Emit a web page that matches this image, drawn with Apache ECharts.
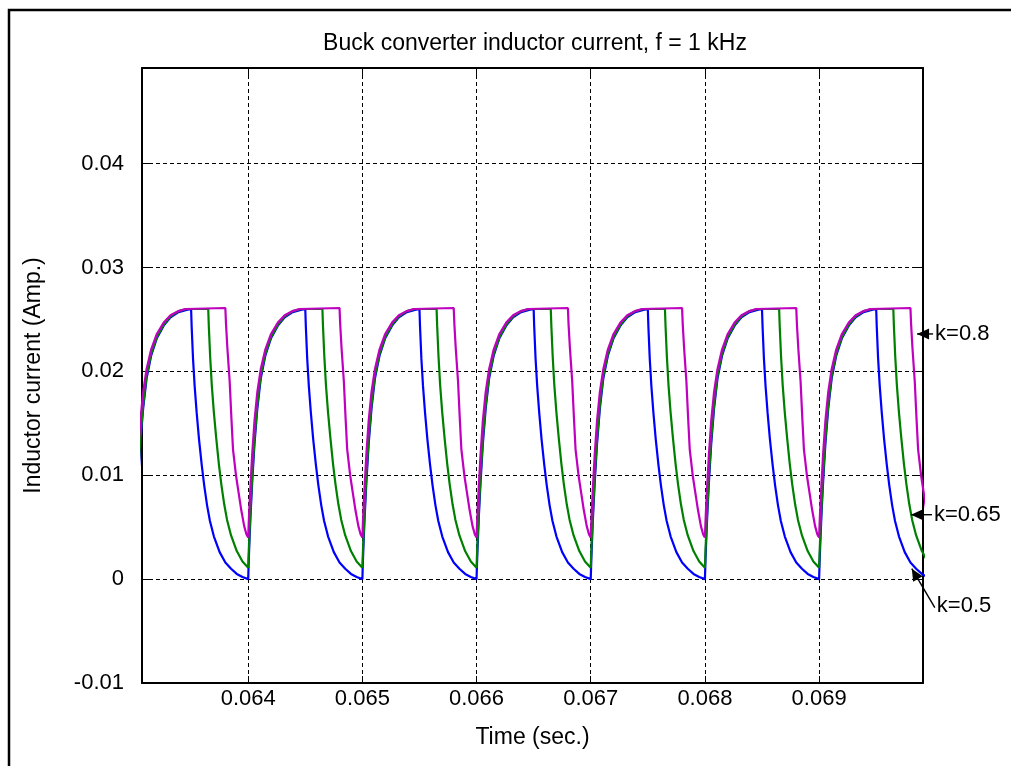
<!DOCTYPE html>
<html>
<head>
<meta charset="utf-8">
<title>Buck converter inductor current</title>
<script src="https://cdn.jsdelivr.net/npm/echarts@6/dist/echarts.min.js"></script>
<style>
  html, body { margin: 0; padding: 0; background: #fff; }
  #chart { width: 1011px; height: 766px; }
</style>
</head>
<body>
<div id="chart"></div>
<script>
// Switching period starts (s); the waveform repeats every 1 ms.
const PERIOD_STARTS = [0.063, 0.064, 0.065, 0.066, 0.067, 0.068, 0.069];

// One switching period per duty ratio: time into the period (ms) and inductor current (A).
const T_K050 = [0, 0.005, 0.010, 0.020, 0.035, 0.055, 0.080, 0.110, 0.150, 0.200, 0.260, 0.320, 0.390, 0.460, 0.500,
                0.505, 0.517, 0.531, 0.549, 0.569, 0.593, 0.615, 0.640, 0.665, 0.700, 0.750, 0.800, 0.850, 0.900, 0.950, 1.000];
const I_K050 = [0.0000, 0.0018, 0.0033, 0.0060, 0.0093, 0.0130, 0.0164, 0.0193, 0.0215, 0.0232, 0.0244, 0.0252, 0.0257, 0.0259, 0.0260,
                0.0243, 0.0212, 0.0186, 0.0160, 0.0135, 0.0110, 0.0090, 0.0071, 0.0056, 0.0041, 0.0026, 0.0016, 0.0010, 0.0005, 0.0002, 0.0000];

const T_K065 = [0, 0.005, 0.010, 0.020, 0.035, 0.055, 0.080, 0.110, 0.150, 0.200, 0.260, 0.320, 0.390, 0.460, 0.650,
                0.655, 0.667, 0.681, 0.699, 0.719, 0.743, 0.765, 0.790, 0.815, 0.850, 0.900, 0.950, 1.000];
const I_K065 = [0.0011, 0.0027, 0.0041, 0.0066, 0.0099, 0.0135, 0.0168, 0.0196, 0.0217, 0.0233, 0.0245, 0.0253, 0.0258, 0.0260, 0.0260,
                0.0244, 0.0214, 0.0187, 0.0161, 0.0137, 0.0111, 0.0091, 0.0072, 0.0057, 0.0042, 0.0027, 0.0017, 0.0011];

const T_K080 = [0, 0.005, 0.010, 0.020, 0.035, 0.055, 0.080, 0.110, 0.150, 0.200, 0.260, 0.320, 0.390, 0.450, 0.800,
                0.806, 0.818, 0.838, 0.853, 0.867, 0.893, 0.915, 0.940, 0.965, 0.985, 1.000];
const I_K080 = [0.0040, 0.0055, 0.0068, 0.0090, 0.0120, 0.0152, 0.0180, 0.0202, 0.0221, 0.0236, 0.0247, 0.0254, 0.0258, 0.0260, 0.0261,
                0.0245, 0.0222, 0.0190, 0.0155, 0.0125, 0.0100, 0.0084, 0.0066, 0.0051, 0.0043, 0.0040];

// Text annotations with arrows pointing at each curve (arrow tip in data units).
const ANNOT_TEXT = ['k=0.8', 'k=0.65', 'k=0.5'];
const ANNOT_TIP = [[0.069858, 0.0236], [0.069805, 0.0062], [0.069812, 0.0010]];

const X_MIN = 0.06307, X_MAX = 0.06991;
const Y_MIN = -0.01, Y_MAX = 0.0492;

const FONT = '"Liberation Sans", Arial, Helvetica, sans-serif';

function buildSeries(offsets, values) {
  const out = [];
  PERIOD_STARTS.forEach(function (t0) {
    offsets.forEach(function (dt, i) {
      out.push([t0 + dt / 1000, values[i]]);
    });
  });
  return out;
}

const chart = echarts.init(document.getElementById('chart'), null, { renderer: 'canvas' });

const gridBox = { left: 142, top: 68, right: 88, bottom: 83 };

const commonTick = { show: true, inside: true, length: 7, lineStyle: { color: '#000', width: 1 } };
const dashed = { show: true, lineStyle: { color: '#000', width: 1, type: [4, 3] } };

function lineSeries(name, color, offsets, values) {
  return {
    name: name,
    type: 'line',
    data: buildSeries(offsets, values),
    showSymbol: false,
    clip: true,
    lineStyle: { color: color, width: 2.2 },
    itemStyle: { color: color },
    animation: false
  };
}

chart.setOption({
  animation: false,
  backgroundColor: '#fff',
  title: {
    text: 'Buck converter inductor current, f = 1 kHz',
    left: 530,
    top: 27,
    textAlign: 'center',
    textStyle: { fontFamily: FONT, fontSize: 23, fontWeight: 'normal', color: '#000' }
  },
  grid: Object.assign({ show: false, containLabel: false }, gridBox),
  xAxis: [{
    type: 'value', min: X_MIN, max: X_MAX, splitNumber: 5,
    name: 'Time (sec.)', nameLocation: 'middle', nameGap: 43,
    nameTextStyle: { fontFamily: FONT, fontSize: 23, color: '#000' },
    axisLine: { show: true, onZero: false, lineStyle: { color: '#000', width: 2 } },
    axisTick: commonTick,
    axisLabel: { show: true, margin: 5, fontFamily: FONT, fontSize: 22, color: '#000', showMinLabel: false, showMaxLabel: false },
    splitLine: dashed
  }, {
    type: 'value', position: 'top', min: X_MIN, max: X_MAX, splitNumber: 5,
    axisLine: { show: true, onZero: false, lineStyle: { color: '#000', width: 2 } },
    axisTick: commonTick,
    axisLabel: { show: false },
    splitLine: { show: false }
  }],
  yAxis: [{
    type: 'value', min: Y_MIN, max: Y_MAX, interval: 0.01,
    name: 'Inductor current (Amp.)', nameLocation: 'middle', nameGap: 97,
    nameTextStyle: { fontFamily: FONT, fontSize: 23, color: '#000' },
    axisLine: { show: true, onZero: false, lineStyle: { color: '#000', width: 2 } },
    axisTick: commonTick,
    axisLabel: { show: true, margin: 18, fontFamily: FONT, fontSize: 22, color: '#000', showMinLabel: true, showMaxLabel: false },
    splitLine: dashed
  }, {
    type: 'value', position: 'right', min: Y_MIN, max: Y_MAX, interval: 0.01,
    axisLine: { show: true, onZero: false, lineStyle: { color: '#000', width: 2 } },
    axisTick: commonTick,
    axisLabel: { show: false },
    splitLine: { show: false }
  }],
  series: [
    lineSeries('k=0.5', '#0000ff', T_K050, I_K050),
    lineSeries('k=0.65', '#008000', T_K065, I_K065),
    lineSeries('k=0.8', '#bf00bf', T_K080, I_K080)
  ]
});

// Annotation arrows: tip on the curve, tail and label to the right of the axes.
const TAIL_DX = [16, 21, 23];
const TAIL_DY = [0, 0, 39];
const LABEL_DY = [0, 0, 37];

function arrowGraphics() {
  const els = [];
  // figure frame
  els.push({
    type: 'rect', silent: true, z: 100,
    shape: { x: 9, y: 10, width: 1200, height: 900 },
    style: { fill: null, stroke: '#000', lineWidth: 2.5 }
  });
  ANNOT_TIP.forEach(function (tip, i) {
    const p = chart.convertToPixel({ gridIndex: 0 }, tip);
    const tx = p[0] + TAIL_DX[i], ty = p[1] + TAIL_DY[i];
    const dx = tx - p[0], dy = ty - p[1];
    const len = Math.sqrt(dx * dx + dy * dy);
    const ux = dx / len, uy = dy / len;
    const hl = 12, hw = 5.5;
    const bx = p[0] + ux * hl, by = p[1] + uy * hl;
    els.push({
      type: 'line', silent: true, z: 100,
      shape: { x1: p[0], y1: p[1], x2: tx, y2: ty },
      style: { stroke: '#000', lineWidth: 1.4 }
    });
    els.push({
      type: 'polygon', silent: true, z: 101,
      shape: { points: [[p[0], p[1]], [bx - uy * hw, by + ux * hw], [bx + uy * hw, by - ux * hw]] },
      style: { fill: '#000' }
    });
    els.push({
      type: 'text', silent: true, z: 101,
      style: {
        text: ANNOT_TEXT[i], x: tx + 2, y: p[1] + LABEL_DY[i],
        font: '22px ' + FONT, fill: '#000',
        textAlign: 'left', align: 'left', textVerticalAlign: 'middle', verticalAlign: 'middle'
      }
    });
  });
  return els;
}

chart.setOption({ graphic: { elements: arrowGraphics() } });
</script>
</body>
</html>
